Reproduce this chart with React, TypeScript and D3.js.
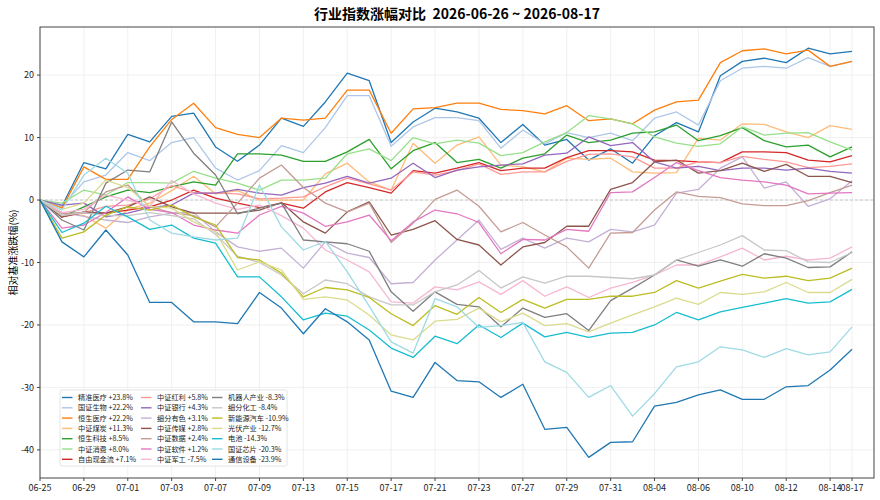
import * as d3 from "d3";

const dates = [
  "06-25", "06-26", "06-29", "06-30", "07-01", "07-02", "07-03", "07-06", "07-07", "07-08",
  "07-09", "07-10", "07-13", "07-14", "07-15", "07-16", "07-17", "07-20", "07-21", "07-22",
  "07-23", "07-24", "07-27", "07-28", "07-29", "07-30", "07-31", "08-03", "08-04", "08-05",
  "08-06", "08-07", "08-10", "08-11", "08-12", "08-13", "08-14", "08-17",
];

const names = [
  "精准医疗", "国证生物", "恒生医疗", "中证煤炭", "恒生科技", "中证消费", "自由现金流",
  "中证红利", "中证银行", "细分有色", "中证传媒", "中证数据", "中证软件", "中证军工",
  "机器人产业", "细分化工", "新能源汽车", "光伏产业", "电池", "国证芯片", "通信设备",
];

const colors = [
  "#1f77b4", "#aec7e8", "#ff7f0e", "#ffbb78", "#2ca02c", "#98df8a", "#d62728",
  "#ff9896", "#9467bd", "#c5b0d5", "#8c564b", "#c49c94", "#e377c2", "#f7b6d2",
  "#7f7f7f", "#c7c7c7", "#bcbd22", "#dbdb8d", "#17becf", "#9edae5", "#1f77b4",
];

const jingzhunyiliao = [0, -1.0, 6.0, 5.0, 10.5, 9.3, 13.4, 13.9, 8.5, 6.2, 8.8, 13.1, 11.8, 15.7, 20.3, 19.1, 9.2, 12.5, 14.7, 14.1, 13.1, 9.2, 12.1, 8.8, 9.7, 6.4, 8.2, 5.9, 10.3, 12.4, 10.9, 19.9, 22.2, 22.7, 22.0, 24.3, 23.4, 23.8];
const guozhengshengwu = [0, -1.0, 2.9, 4.0, 7.6, 6.3, 9.2, 10.0, 5.1, 3.2, 4.7, 8.7, 7.6, 11.6, 16.7, 16.7, 8.6, 11.7, 13.2, 13.2, 12.7, 8.3, 11.2, 9.0, 10.8, 10.0, 10.7, 9.5, 13.1, 14.1, 12.0, 19.1, 21.1, 21.4, 21.1, 22.8, 21.4, 22.2];
const hengshengyiliao = [0, -1.3, 5.3, 3.3, 3.3, 8.5, 12.9, 15.5, 11.6, 10.5, 10.0, 13.1, 12.8, 13.1, 17.6, 17.6, 10.7, 14.6, 14.8, 15.5, 15.5, 14.5, 14.3, 13.8, 15.1, 12.7, 13.0, 12.2, 14.4, 15.7, 16.0, 22.0, 23.9, 24.2, 23.4, 24.0, 21.4, 22.2];
const meitan = [0, -2.0, -2.5, -4.5, -1.5, -0.5, 1.5, 3.8, 1.0, 1.5, 0, 0, 0, 4.2, 5.9, 2.9, 1.6, 9.1, 5.9, 8.8, 10.1, 5.6, 5.3, 4.5, 6.7, 6.5, 6.7, 4.5, 4.3, 4.4, 9.9, 9.6, 12.2, 12.1, 10.9, 10.0, 11.9, 11.3];
const hengshengkeji = [0, -2.7, -1.1, 0.5, 1.6, 1.2, 2.1, 2.9, 2.4, 7.4, 7.4, 7.2, 6.2, 6.2, 7.7, 9.7, 5.0, 7.9, 9.2, 6.0, 6.5, 5.1, 6.7, 7.4, 10.4, 9.2, 9.6, 10.7, 10.9, 12.0, 9.5, 10.3, 11.6, 9.5, 8.5, 8.8, 6.9, 8.5];
const xiaofei = [0, -0.5, 1.6, 0.8, 2.8, 2.8, 2.7, 4.6, 3.5, 2.7, 1.6, 3.2, 3.2, 3.5, 7.4, 8.2, 6.3, 10.0, 9.0, 9.6, 9.1, 7.1, 7.6, 9.3, 10.8, 13.5, 13.0, 12.2, 10.1, 9.1, 8.6, 9.0, 11.7, 10.4, 10.7, 10.8, 9.3, 8.0];
const xianjinliu = [0, -2.7, -2.0, -2.1, -1.6, -1.1, 0, 1.6, 0.3, -0.5, -1.2, -0.5, -1.3, 1.3, 2.8, 2.0, 1.1, 4.7, 4.3, 5.1, 6.0, 4.7, 5.1, 5.1, 6.8, 7.9, 7.9, 7.7, 6.4, 6.3, 6.1, 6.0, 7.7, 7.7, 7.6, 6.4, 6.1, 7.1];
const hongli = [0, -2.5, -2.0, -1.0, -0.8, 0.2, 2.3, 1.2, 1.1, 1.0, 0.2, 0.3, 0.5, 2.1, 3.5, 2.6, 1.6, 4.5, 4.0, 4.7, 5.8, 4.1, 4.5, 4.5, 6.2, 7.3, 7.4, 6.9, 5.1, 5.1, 6.1, 6.0, 7.0, 6.5, 6.1, 5.2, 5.4, 5.8];
const yinhang = [0, -0.8, -0.5, -2.7, -2.1, -1.2, -0.8, 1.1, 1.1, 1.7, 1.1, 0.8, 2.0, 2.7, 3.8, 2.7, 3.5, 5.9, 3.6, 4.8, 5.3, 5.6, 5.8, 7.2, 7.5, 10.1, 8.7, 9.2, 6.1, 5.1, 5.4, 4.7, 5.1, 5.1, 4.8, 5.1, 4.6, 4.3];
const youse = [0, -2.0, -2.6, -3.2, -3.6, -2.7, -2.1, -2.0, -5.1, -7.5, -8.2, -7.7, -10.9, -6.7, -8.5, -9.2, -13.4, -13.2, -9.6, -6.4, -3.2, -7.9, -6.1, -7.7, -6.1, -6.7, -4.7, -5.1, -4.0, 1.1, 1.7, 5.1, 6.9, 1.9, 2.9, -1.0, 0.2, 3.1];
const chuanmei = [0, -2.7, -1.9, -2.1, -1.1, 0.5, -1.1, -2.1, -2.1, -2.1, -1.6, -0.4, -3.5, -5.3, -1.9, -0.3, -5.6, -4.7, -3.3, -6.3, -7.2, -10.4, -7.5, -6.8, -4.2, -4.2, 1.7, 2.8, 6.1, 6.4, 4.3, 4.7, 5.9, 4.6, 5.7, 3.8, 3.8, 2.8];
const shuju = [0, -2.2, -2.0, 1.3, 2.4, -1.1, -2.0, -2.5, -4.3, -0.5, 3.5, 5.6, 2.0, -0.5, -1.9, -0.5, -6.8, -3.7, 0.1, 1.6, -1.0, -5.1, -3.6, -5.6, -7.5, -10.9, -5.3, -5.2, -1.6, 1.3, 0.6, 0.4, -0.6, -0.9, -0.9, -0.1, 1.2, 2.4];
const ruanjian = [0, -4.5, -4.0, -2.0, 0.5, -1.5, -2.0, -4.0, -4.8, -5.3, -2.4, -1.0, -2.1, -4.2, -3.5, -2.4, -6.5, -3.5, -1.6, -2.2, -3.6, -8.6, -6.3, -6.4, -4.7, -5.0, 1.2, 1.3, 3.6, 6.0, 4.7, 3.6, 3.2, 2.9, 2.4, 1.0, 1.1, 1.2];
const jungong = [0, -2.0, -1.5, 0.8, 0.0, -1.0, 3.1, 1.0, -0.5, -1.5, -0.8, -2.5, -4.5, -8.0, -9.6, -11.5, -16.3, -16.5, -13.9, -14.4, -13.1, -15.1, -12.9, -15.4, -13.9, -15.6, -14.1, -13.2, -12.0, -10.4, -10.4, -9.1, -7.7, -9.6, -9.0, -9.6, -9.3, -7.5];
const jiqiren = [0, -3.2, -4.8, 2.7, 4.8, 4.5, 12.5, 7.5, 4.0, -2.2, -1.3, -0.5, -6.4, -6.7, -7.0, -8.2, -14.7, -17.8, -14.7, -16.7, -17.1, -20.3, -17.3, -18.8, -18.2, -20.9, -16.1, -14.1, -12.0, -9.6, -10.6, -9.6, -10.6, -8.6, -9.3, -10.8, -10.7, -8.3];
const huagong = [0, -2.5, -2.0, -2.5, -2.5, -2.0, -2.5, -3.0, -5.5, -9.0, -10.0, -12.0, -15.0, -12.8, -13.4, -15.5, -16.8, -16.8, -14.7, -13.6, -11.3, -14.1, -12.3, -13.3, -12.2, -12.2, -12.4, -12.6, -12.0, -9.6, -8.4, -7.2, -5.7, -8.0, -8.1, -9.9, -10.0, -8.4];
const xinnengyuan = [0, -6.1, -5.1, -2.4, -1.1, -1.6, -0.8, -2.7, -4.0, -9.2, -9.6, -11.7, -15.5, -14.0, -14.4, -15.6, -18.2, -20.1, -16.9, -18.3, -15.6, -18.0, -15.9, -17.3, -15.9, -15.9, -15.4, -15.4, -14.8, -12.9, -14.1, -13.0, -11.9, -12.5, -12.2, -12.9, -12.5, -10.9];
const guangfu = [0, -1.5, -0.5, 3.2, 2.0, -1.0, -1.3, -3.5, -5.1, -11.2, -9.9, -11.2, -15.9, -15.5, -16.0, -18.4, -21.6, -22.4, -19.4, -19.1, -17.3, -19.5, -18.1, -20.1, -19.8, -21.1, -19.7, -18.4, -17.1, -15.7, -16.7, -14.8, -15.1, -14.7, -13.2, -14.8, -14.8, -12.7];
const dianchi = [0, -5.2, -3.7, -1.0, -2.7, -4.7, -4.0, -6.1, -6.9, -12.3, -12.3, -15.5, -19.2, -18.1, -18.6, -20.8, -23.7, -25.2, -21.8, -23.0, -20.0, -22.0, -19.7, -21.9, -21.2, -22.0, -21.3, -21.2, -20.0, -18.0, -19.2, -17.9, -17.2, -16.5, -15.8, -16.5, -16.3, -14.3];
const xinpian = [0, -1.6, 4.0, 6.7, 4.3, -3.2, -5.3, -5.9, -6.4, -6.1, 2.4, -4.3, -8.0, -6.6, -11.5, -17.0, -22.7, -24.5, -15.8, -17.1, -20.4, -20.1, -19.6, -25.9, -27.6, -31.6, -29.7, -34.6, -31.0, -26.7, -25.9, -23.5, -24.0, -25.2, -23.8, -24.8, -24.3, -20.3];
const tongxin = [0, -6.7, -9.1, -4.8, -8.8, -16.4, -16.4, -19.5, -19.5, -19.8, -14.8, -17.3, -21.4, -17.4, -19.5, -22.4, -30.6, -31.6, -26.0, -28.9, -29.1, -31.6, -29.5, -36.7, -36.4, -41.2, -38.8, -38.7, -33.0, -32.4, -31.2, -30.4, -31.9, -31.9, -29.9, -29.7, -27.2, -23.9];

const seriesValues = [
  jingzhunyiliao, guozhengshengwu, hengshengyiliao, meitan, hengshengkeji, xiaofei, xianjinliu,
  hongli, yinhang, youse, chuanmei, shuju, ruanjian, jungong,
  jiqiren, huagong, xinnengyuan, guangfu, dianchi, xinpian, tongxin,
];

const finalChanges = [
  23.8, 22.2, 22.2, 11.3, 8.5, 8.0, 7.1,
  5.8, 4.3, 3.1, 2.8, 2.4, 1.2, -7.5,
  -8.3, -8.4, -10.9, -12.7, -14.3, -20.3, -23.9,
];

const yTicks = [-40, -30, -20, -10, 0, 10, 20];
const xTickIdx = [0, 2, 4, 6, 8, 10, 12, 14, 16, 18, 20, 22, 24, 26, 28, 30, 32, 34, 36, 37];

const W = 880;
const H = 500;
const margin = { top: 27, right: 6, bottom: 22, left: 40 };
const font = "'Noto Sans CJK SC', 'DejaVu Sans', sans-serif";

export default function App() {
  const x = d3.scaleLinear().domain([0, 38]).range([margin.left, W - margin.right]);
  const y = d3.scaleLinear().domain([-44.5, 27.7]).range([H - margin.bottom, margin.top]);
  const line = d3
    .line<number>()
    .x((_, i) => x(i))
    .y((d) => y(d));

  const fmt = (v: number) => (v >= 0 ? "+" : "") + v.toFixed(1) + "%";

  const legX = 60;
  const legY = 390;
  const colW = [0, 79, 150];
  const rowH = 10.3;

  return (
    <svg
      width={W}
      height={H}
      style={{ position: "absolute", left: 0, top: 0, background: "#fff" }}
      fontFamily={font}
    >
      <text
        x={(margin.left + W - margin.right) / 2}
        y={19}
        textAnchor="middle"
        fontSize={14}
        fontWeight="bold"
        style={{ whiteSpace: "pre" }}
      >
        {"行业指数涨幅对比  2026-06-26 ~ 2026-08-17"}
      </text>

      {/* grid */}
      <g stroke="#ececec" strokeWidth={0.8}>
        {xTickIdx.map((i) => (
          <line key={"gx" + i} x1={x(i)} x2={x(i)} y1={margin.top} y2={H - margin.bottom} />
        ))}
        {yTicks.map((t) => (
          <line key={"gy" + t} x1={margin.left} x2={W - margin.right} y1={y(t)} y2={y(t)} />
        ))}
      </g>
      <line
        x1={margin.left}
        x2={W - margin.right}
        y1={y(0)}
        y2={y(0)}
        stroke="#bbb"
        strokeWidth={0.8}
        strokeDasharray="3,2"
      />

      {/* series */}
      <g fill="none" strokeWidth={1.3} strokeLinejoin="round">
        {seriesValues.map((vals, k) => (
          <path key={names[k]} d={line(vals) || ""} stroke={colors[k]} />
        ))}
      </g>

      {/* frame */}
      <rect
        x={margin.left}
        y={margin.top}
        width={W - margin.right - margin.left}
        height={H - margin.bottom - margin.top}
        fill="none"
        stroke="#444"
        strokeWidth={1}
      />

      {/* axes */}
      <g fontSize={9} fill="#222">
        {yTicks.map((t) => (
          <g key={"ty" + t}>
            <line x1={margin.left - 3} x2={margin.left} y1={y(t)} y2={y(t)} stroke="#444" />
            <text x={margin.left - 6} y={y(t)} dy="0.35em" textAnchor="end">
              {t}
            </text>
          </g>
        ))}
        {xTickIdx.map((i) => (
          <g key={"tx" + i}>
            <line x1={x(i)} x2={x(i)} y1={H - margin.bottom} y2={H - margin.bottom + 3} stroke="#444" />
            <text x={x(i)} y={H - margin.bottom + 13} textAnchor="middle">
              {dates[i]}
            </text>
          </g>
        ))}
      </g>
      <text
        transform={`translate(13,${(margin.top + H - margin.bottom) / 2}) rotate(-90)`}
        textAnchor="middle"
        dy="0.35em"
        fontSize={10}
      >
        相对基准涨跌幅(%)
      </text>

      {/* legend */}
      <rect
        x={legX}
        y={legY}
        width={227}
        height={76}
        rx={2}
        fill="#fff"
        fillOpacity={0.85}
        stroke="#ddd"
        strokeWidth={0.8}
      />
      <g fontSize={7.2} fill="#222">
        {names.map((n, k) => {
          const col = Math.floor(k / 7);
          const row = k % 7;
          const lx = legX + 2 + colW[col];
          const ly = legY + 7.5 + row * rowH;
          return (
            <g key={"lg" + n}>
              <line x1={lx} x2={lx + 10.5} y1={ly} y2={ly} stroke={colors[k]} strokeWidth={1.4} />
              <text x={lx + 16} y={ly} dy="0.35em">
                {n} {fmt(finalChanges[k])}
              </text>
            </g>
          );
        })}
      </g>
    </svg>
  );
}
